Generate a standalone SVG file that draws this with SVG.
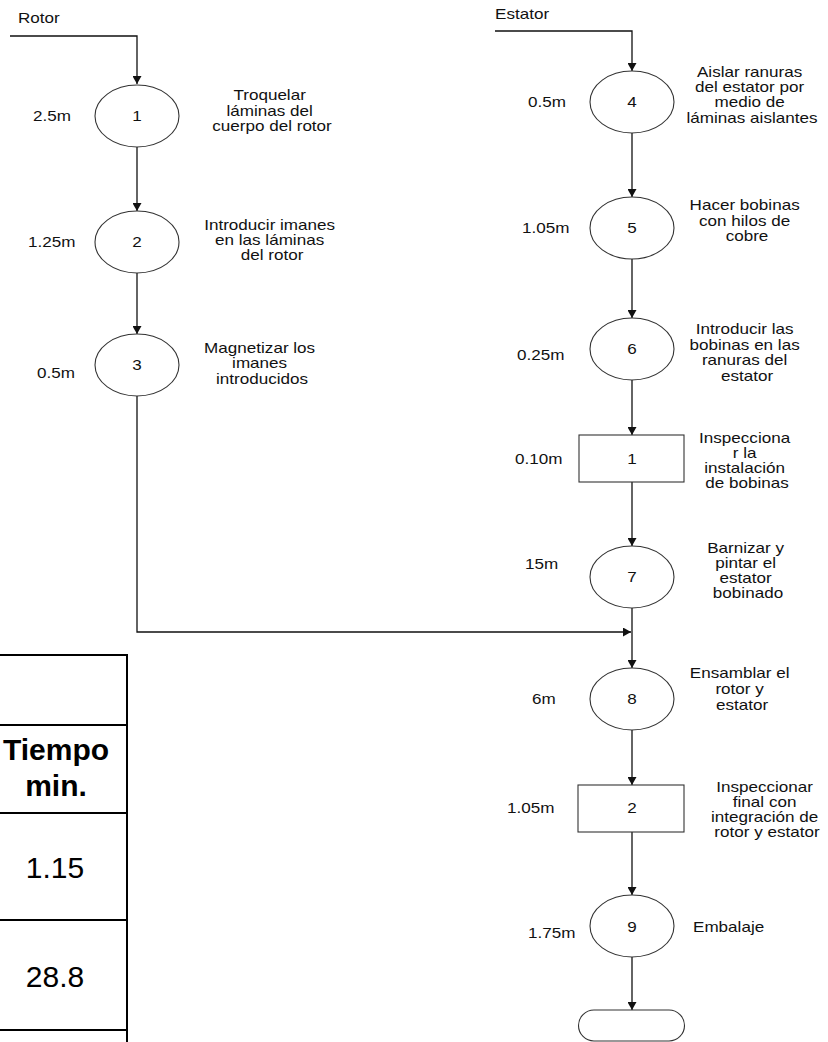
<svg xmlns="http://www.w3.org/2000/svg" width="828" height="1042" viewBox="0 0 828 1042">
  <style>
    text { font-family: "Liberation Sans", Arial, sans-serif; fill: #111; }
    .lbl { font-size: 14px; }
    .mid { text-anchor: middle; }
    .shape { fill: #fff; stroke: #333; stroke-width: 1.1; }
    .conn { fill: none; stroke: #111; stroke-width: 1.3; }
    .grid { fill: none; stroke: #000; stroke-width: 2; }
    .tbl { font-size: 30px; text-anchor: middle; fill: #000; }
    .tblb { font-size: 30px; font-weight: bold; text-anchor: middle; fill: #000; }
  </style>
  <defs>
    <marker id="arrow" markerUnits="userSpaceOnUse" viewBox="0 0 8 9" refX="8" refY="4.5" markerWidth="8" markerHeight="9" orient="auto">
      <path d="M0,0 L8,4.5 L0,9 z" fill="#111"/>
    </marker>
  </defs>
  <rect width="828" height="1042" fill="#fff"/>

  <!-- flow lines -->
  <g id="connectors">
    <path class="conn" d="M10,36 H137 V84" marker-end="url(#arrow)"/>
    <path class="conn" d="M137,147 V211" marker-end="url(#arrow)"/>
    <path class="conn" d="M137,273 V334" marker-end="url(#arrow)"/>
    <path class="conn" d="M137,396 V632 H631" marker-end="url(#arrow)"/>
    <path class="conn" d="M495,31 H632 V71" marker-end="url(#arrow)"/>
    <path class="conn" d="M632,133 V197" marker-end="url(#arrow)"/>
    <path class="conn" d="M632,259 V318" marker-end="url(#arrow)"/>
    <path class="conn" d="M632,380 V435" marker-end="url(#arrow)"/>
    <path class="conn" d="M632,482 V546" marker-end="url(#arrow)"/>
    <path class="conn" d="M632,608 V668" marker-end="url(#arrow)"/>
    <path class="conn" d="M632,730 V785" marker-end="url(#arrow)"/>
    <path class="conn" d="M632,832 V895" marker-end="url(#arrow)"/>
    <path class="conn" d="M632,957 V1010" marker-end="url(#arrow)"/>
  </g>

  <!-- line headings -->
  <g id="head-rotor">
    <text class="lbl" transform="translate(18 0) scale(1.22 1)" x="0" y="23">Rotor</text>
  </g>
  <g id="head-estator">
    <text class="lbl" transform="translate(495 0) scale(1.22 1)" x="0" y="19">Estator</text>
  </g>

  <!-- rotor line -->
  <g id="op1">
    <ellipse class="shape" cx="137" cy="116" rx="42" ry="31"/>
    <text class="lbl mid" transform="translate(137 0) scale(1.22 1)" x="0" y="121">1</text>
    <text class="lbl" transform="translate(33 0) scale(1.22 1)" x="0" y="121">2.5m</text>
    <text class="lbl mid" transform="translate(272 0) scale(1.22 1)">
      <tspan x="0" y="100">Troquelar</tspan>
      <tspan x="0" y="116">láminas del</tspan>
      <tspan x="0" y="131">cuerpo del rotor</tspan>
    </text>
  </g>
  <g id="op2">
    <ellipse class="shape" cx="137" cy="242" rx="42" ry="31"/>
    <text class="lbl mid" transform="translate(137 0) scale(1.22 1)" x="0" y="247">2</text>
    <text class="lbl" transform="translate(28 0) scale(1.22 1)" x="0" y="247">1.25m</text>
    <text class="lbl mid" transform="translate(272 0) scale(1.22 1)">
      <tspan x="0" y="230">Introducir imanes</tspan>
      <tspan x="0" y="245">en las láminas</tspan>
      <tspan x="0" y="260">del rotor</tspan>
    </text>
  </g>
  <g id="op3">
    <ellipse class="shape" cx="137" cy="365" rx="42" ry="31"/>
    <text class="lbl mid" transform="translate(137 0) scale(1.22 1)" x="0" y="370">3</text>
    <text class="lbl" transform="translate(37 0) scale(1.22 1)" x="0" y="378">0.5m</text>
    <text class="lbl mid" transform="translate(262 0) scale(1.22 1)">
      <tspan x="0" y="353">Magnetizar los</tspan>
      <tspan x="0" y="368">imanes</tspan>
      <tspan x="0" y="384">introducidos</tspan>
    </text>
  </g>

  <!-- stator line -->
  <g id="op4">
    <ellipse class="shape" cx="632" cy="102" rx="42" ry="31"/>
    <text class="lbl mid" transform="translate(632 0) scale(1.22 1)" x="0" y="107">4</text>
    <text class="lbl" transform="translate(528 0) scale(1.22 1)" x="0" y="107">0.5m</text>
    <text class="lbl mid" transform="translate(752 0) scale(1.22 1)">
      <tspan x="0" y="77">Aislar ranuras</tspan>
      <tspan x="0" y="92">del estator por</tspan>
      <tspan x="0" y="107">medio de</tspan>
      <tspan x="0" y="123">láminas aislantes</tspan>
    </text>
  </g>
  <g id="op5">
    <ellipse class="shape" cx="632" cy="228" rx="42" ry="31"/>
    <text class="lbl mid" transform="translate(632 0) scale(1.22 1)" x="0" y="233">5</text>
    <text class="lbl" transform="translate(522 0) scale(1.22 1)" x="0" y="233">1.05m</text>
    <text class="lbl mid" transform="translate(747 0) scale(1.22 1)">
      <tspan x="0" y="210">Hacer bobinas</tspan>
      <tspan x="0" y="226">con hilos de</tspan>
      <tspan x="0" y="241">cobre</tspan>
    </text>
  </g>
  <g id="op6">
    <ellipse class="shape" cx="632" cy="349" rx="42" ry="31"/>
    <text class="lbl mid" transform="translate(632 0) scale(1.22 1)" x="0" y="354">6</text>
    <text class="lbl" transform="translate(517 0) scale(1.22 1)" x="0" y="360">0.25m</text>
    <text class="lbl mid" transform="translate(747 0) scale(1.22 1)">
      <tspan x="0" y="334">Introducir las</tspan>
      <tspan x="0" y="350">bobinas en las</tspan>
      <tspan x="0" y="365">ranuras del</tspan>
      <tspan x="0" y="381">estator</tspan>
    </text>
  </g>
  <g id="insp1">
    <rect class="shape" x="579" y="435" width="105" height="47"/>
    <text class="lbl mid" transform="translate(632 0) scale(1.22 1)" x="0" y="464">1</text>
    <text class="lbl" transform="translate(515 0) scale(1.22 1)" x="0" y="464">0.10m</text>
    <text class="lbl mid" transform="translate(747 0) scale(1.22 1)">
      <tspan x="0" y="443">Inspecciona</tspan>
      <tspan x="0" y="458">r la</tspan>
      <tspan x="0" y="473">instalación</tspan>
      <tspan x="0" y="488">de bobinas</tspan>
    </text>
  </g>
  <g id="op7">
    <ellipse class="shape" cx="632" cy="577" rx="42" ry="31"/>
    <text class="lbl mid" transform="translate(632 0) scale(1.22 1)" x="0" y="582">7</text>
    <text class="lbl" transform="translate(525 0) scale(1.22 1)" x="0" y="569">15m</text>
    <text class="lbl mid" transform="translate(748 0) scale(1.22 1)">
      <tspan x="0" y="553">Barnizar y</tspan>
      <tspan x="0" y="568">pintar el</tspan>
      <tspan x="0" y="583">estator</tspan>
      <tspan x="0" y="598">bobinado</tspan>
    </text>
  </g>

  <!-- assembly -->
  <g id="op8">
    <ellipse class="shape" cx="632" cy="699" rx="42" ry="31"/>
    <text class="lbl mid" transform="translate(632 0) scale(1.22 1)" x="0" y="704">8</text>
    <text class="lbl" transform="translate(532 0) scale(1.22 1)" x="0" y="704">6m</text>
    <text class="lbl mid" transform="translate(742 0) scale(1.22 1)">
      <tspan x="0" y="678">Ensamblar el</tspan>
      <tspan x="0" y="694">rotor y</tspan>
      <tspan x="0" y="710">estator</tspan>
    </text>
  </g>
  <g id="insp2">
    <rect class="shape" x="578" y="785" width="106" height="47"/>
    <text class="lbl mid" transform="translate(632 0) scale(1.22 1)" x="0" y="813">2</text>
    <text class="lbl" transform="translate(507 0) scale(1.22 1)" x="0" y="813">1.05m</text>
    <text class="lbl mid" transform="translate(767 0) scale(1.22 1)">
      <tspan x="0" y="792">Inspeccionar</tspan>
      <tspan x="0" y="807">final con</tspan>
      <tspan x="0" y="822">integración de</tspan>
      <tspan x="0" y="837">rotor y estator</tspan>
    </text>
  </g>
  <g id="op9">
    <ellipse class="shape" cx="632" cy="926" rx="42" ry="31"/>
    <text class="lbl mid" transform="translate(632 0) scale(1.22 1)" x="0" y="932">9</text>
    <text class="lbl" transform="translate(528 0) scale(1.22 1)" x="0" y="938">1.75m</text>
    <text class="lbl" transform="translate(693 0) scale(1.22 1)" x="0" y="932">Embalaje</text>
  </g>
  <g id="end">
    <rect class="shape" x="578.5" y="1010" width="106" height="31" rx="15.5" ry="15.5"/>
  </g>

  <!-- time summary table -->
  <g id="time-table">
    <path class="grid" d="M0,655 H128 M0,725 H128 M0,813 H128 M0,920 H128 M0,1030 H128 M127,654 V1042"/>
    <text class="tblb" x="56" y="760">Tiempo</text>
    <text class="tblb" x="56" y="796">min.</text>
    <text class="tbl" x="55" y="878">1.15</text>
    <text class="tbl" x="55" y="987">28.8</text>
  </g>
</svg>
